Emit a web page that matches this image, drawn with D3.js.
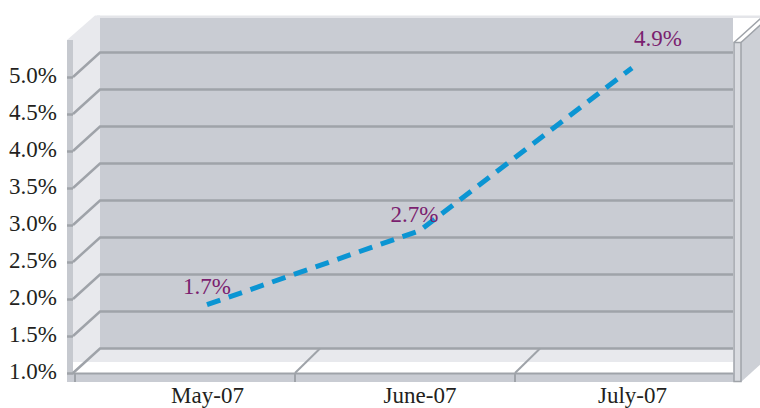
<!DOCTYPE html>
<html>
<head>
<meta charset="utf-8">
<script src="https://cdn.jsdelivr.net/npm/d3@7"></script>
<style>
  html, body { margin: 0; padding: 0; background: #ffffff; }
  svg { display: block; }
  text { font-family: "Liberation Serif", "Times New Roman", serif; }
</style>
</head>
<body>
<svg id="chart" width="760" height="408"></svg>
<script>
// ---- data ----
const categories = ["May-07", "June-07", "July-07"];
const values = [1.7, 2.7, 4.9];
const dataLabels = ["1.7%", "2.7%", "4.9%"];
const yTicks = [1.0, 1.5, 2.0, 2.5, 3.0, 3.5, 4.0, 4.5, 5.0];
const yTickLabels = ["1.0%", "1.5%", "2.0%", "2.5%", "3.0%", "3.5%", "4.0%", "4.5%", "5.0%"];

// ---- geometry ----
const svg = d3.select("#chart");
const DX = 27, DY = -24.5;          // depth offset (front -> back)
const frontLeft = 73, backLeft = frontLeft + DX, backRight = 733;
const wallTopVal = 5.5;
const fontSize = 23;

const yBack = d3.scaleLinear().domain([1, 5]).range([348.5, 52.5]);
const yFront = v => yBack(v) - DY;
const yLine = v => yBack(v) + 8;

const xBand = d3.scaleBand().domain(categories).range([75, 735]);
const xPoint = d3.scalePoint().domain(categories).range([207, 632]);

const gridColor = "#9fa3a9";
const wallColor = "#c9ccd3";
const sideLight = "#e8e9ed";

// ---- walls ----
const floorBackY = yBack(1), floorFrontY = yFront(1);
const topBackY = yBack(wallTopVal), topFrontY = yFront(wallTopVal);

// right outer face
svg.append("path")
  .attr("d", `M741,${topFrontY + 2} L${741 + DX},${topBackY + 2} L${741 + DX},${382 + DY} L741,382 Z`)
  .attr("fill", "#cdd0d6");

// back wall
svg.append("rect").attr("x", backLeft).attr("y", topBackY + 2.5)
  .attr("width", backRight - backLeft).attr("height", floorBackY - topBackY - 2.5)
  .attr("fill", wallColor);
// top edge band
svg.append("rect").attr("x", backLeft - 3).attr("y", topBackY)
  .attr("width", 760 - backLeft + 3).attr("height", 2.5)
  .attr("fill", "#e4e5e9");

// left wall (inner face)
svg.append("path")
  .attr("d", `M${frontLeft - 6},${topFrontY} L${backLeft - 5},${topBackY} L${backLeft},${topBackY} L${backLeft},362 L${frontLeft},362 L${frontLeft},${topFrontY} Z`)
  .attr("fill", sideLight);

// floor
svg.append("rect").attr("x", frontLeft).attr("y", floorBackY)
  .attr("width", backRight - frontLeft).attr("height", 362 - floorBackY)
  .attr("fill", sideLight);
svg.append("rect").attr("x", frontLeft).attr("y", 362)
  .attr("width", backRight - frontLeft).attr("height", floorFrontY - 362)
  .attr("fill", "#ffffff");

// left edge strip
svg.append("rect").attr("x", frontLeft - 6).attr("y", topFrontY)
  .attr("width", 6).attr("height", 382 - topFrontY)
  .attr("fill", "#c6c9cf");

// front floor strip
svg.append("rect").attr("x", frontLeft - 6).attr("y", floorFrontY)
  .attr("width", 741 - frontLeft + 6).attr("height", 382 - floorFrontY)
  .attr("fill", wallColor);
svg.append("line").attr("x1", frontLeft).attr("x2", backRight)
  .attr("y1", floorFrontY + 0.5).attr("y2", floorFrontY + 0.5)
  .attr("stroke", gridColor).attr("stroke-width", 2);

// gridlines: tick on left strip, slant on left wall, horizontal on back wall
const grid = svg.append("g");
yTicks.forEach(v => {
  grid.append("path")
    .attr("d", `M${frontLeft},${yFront(v)} L${backLeft},${yBack(v)} L${backRight},${yBack(v)}`)
    .attr("fill", "none").attr("stroke", gridColor).attr("stroke-width", 2.5);
});

// floor category separators + ticks below
const bounds = categories.map(c => xBand(c)).slice(1);
bounds.forEach(x => {
  svg.append("line").attr("x1", x).attr("y1", floorFrontY)
    .attr("x2", x + DX - 2).attr("y2", floorBackY)
    .attr("stroke", gridColor).attr("stroke-width", 2);
});
categories.map(c => xBand(c)).forEach(x => {
  svg.append("line").attr("x1", x).attr("x2", x)
    .attr("y1", floorFrontY).attr("y2", 382)
    .attr("stroke", gridColor).attr("stroke-width", 2);
});

// right pillar
svg.append("rect").attr("x", 734).attr("y", topFrontY + 2.5)
  .attr("width", 7).attr("height", 382 - topFrontY - 3)
  .attr("fill", "#d9dbe0").attr("stroke", gridColor).attr("stroke-width", 1.5);
svg.append("path")
  .attr("d", `M734,${topFrontY + 2.5} L${734 + DX},${topBackY + 2.5} M741,${topFrontY + 2.5} L${741 + DX},${topBackY + 2.5}`)
  .attr("stroke", gridColor).attr("stroke-width", 1.5).attr("fill", "none");

// ---- y axis (front plane) ----
const yAxisScale = d3.scaleLinear().domain(yBack.domain()).range(yBack.range().map(r => r - DY));
const yAxis = d3.axisLeft(yAxisScale)
  .tickValues(yTicks)
  .tickFormat((d, i) => yTickLabels[i])
  .tickSize(6)
  .tickPadding(10);
const yg = svg.append("g").attr("transform", `translate(${frontLeft},0)`).call(yAxis);
yg.select(".domain").remove();
yg.selectAll(".tick line").attr("stroke", gridColor).attr("stroke-width", 2.5);
yg.selectAll(".tick text")
  .attr("dy", "0.22em")
  .style("font-family", "'Liberation Serif', serif")
  .style("font-size", fontSize + "px")
  .attr("fill", "#231f20");

// ---- x axis ----
const xAxis = d3.axisBottom(xPoint).tickSize(0).tickPadding(4.7);
const xg = svg.append("g").attr("transform", `translate(0,382)`).call(xAxis);
xg.select(".domain").remove();
xg.selectAll(".tick text")
  .style("font-family", "'Liberation Serif', serif")
  .style("font-size", fontSize + "px")
  .attr("fill", "#231f20");

// ---- line ----
const pts = categories.map((c, i) => [xPoint(c), yLine(values[i])]);
svg.append("path")
  .attr("d", d3.line()(pts))
  .attr("fill", "none")
  .attr("stroke", "#0b95d3")
  .attr("stroke-width", 5)
  .attr("stroke-dasharray", "14,9");

// ---- data labels ----
const nudgeX = [0, -5, 26], nudgeY = [-11, -9, -22];
svg.append("g").selectAll("text").data(dataLabels).join("text")
  .attr("x", (d, i) => pts[i][0] + nudgeX[i])
  .attr("y", (d, i) => pts[i][1] + nudgeY[i])
  .attr("text-anchor", "middle")
  .style("font-size", fontSize + "px")
  .attr("fill", "#7b1f6f")
  .text(d => d);
</script>
</body>
</html>
